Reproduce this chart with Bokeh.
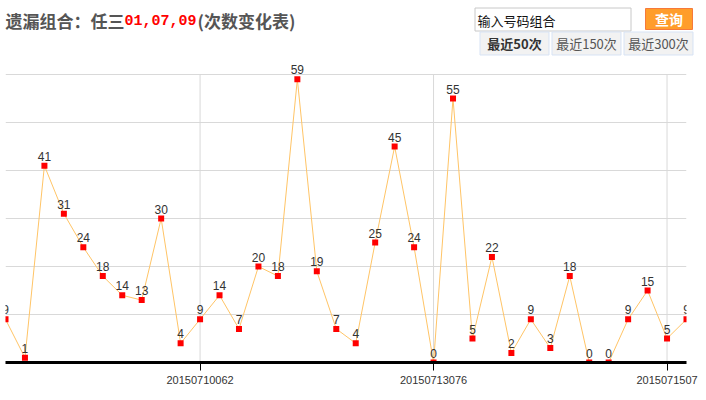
from bokeh.plotting import figure
from bokeh.layouts import column
from bokeh.models import Range1d, FixedTicker, ColumnDataSource
from bokeh.core.properties import value
from bokeh.embed import file_html
from bokeh.resources import INLINE

# ---- data ----
values = [9, 1, 41, 31, 24, 18, 14, 13, 30, 4, 9, 14, 7, 20, 18, 59, 19, 7, 4, 25,
          45, 24, 0, 55, 5, 22, 2, 9, 3, 18, 0, 0, 9, 15, 5, 9]
positions = list(range(len(values)))
tick_positions = [10, 22, 34]
tick_labels = ["20150710062", "20150713076", "2015071507"]
y_ticks = [0, 10, 20, 30, 40, 50, 60]
title_parts = ["遗漏组合：任三", "01,07,09", "(次数变化表)"]
button_labels = ["最近50次", "最近150次", "最近300次"]
input_placeholder = "输入号码组合"
query_label = "查询"

W = 698
HEAD_H = 58
CHART_H = 334
CJK = "Noto Sans CJK SC"

# ================= header (title + controls) =================
head = figure(width=W, height=HEAD_H, output_backend="svg", toolbar_location=None,
              title=None, x_axis_location=None, y_axis_location=None,
              x_range=Range1d(0, W), y_range=Range1d(HEAD_H, 0),
              min_border=0)
head.frame_align = False
head.outline_line_color = None
head.xgrid.visible = False
head.ygrid.visible = False

# title in three coloured parts
title_x = [5, 124, 197]
title_font = [CJK, "Liberation Mono", CJK]
title_size = ["17px", "15px", "17px"]
title_color = ["#555555", "#FF0000", "#555555"]
for i in range(3):
    head.text([title_x[i]], [19.5], text=[title_parts[i]], text_baseline="middle",
              text_align="left", text_font=value(title_font[i]),
              text_font_size=title_size[i], text_font_style="bold",
              text_color=title_color[i])

# input box
head.quad(left=[474.5], right=[630.5], top=[7.5], bottom=[30.5],
          fill_color="white", line_color="#c8c8c8", line_width=1)
head.text([477], [19.5], text=[input_placeholder], text_baseline="middle",
          text_font=value(CJK), text_font_size="13px", text_color="#111111")

# query button
head.quad(left=[645], right=[692], top=[8], bottom=[29],
          fill_color="#FF9D2B", line_color="#F6793A", line_width=1)
head.text([668.5], [18.5], text=[query_label], text_baseline="middle",
          text_align="center", text_font=value(CJK), text_font_size="14px",
          text_font_style="bold", text_color="white")

# range buttons
btn_left = [479.5, 551.5, 623.5]
btn_right = [548.5, 620.5, 692.5]
head.quad(left=btn_left, right=btn_right, top=[31.5] * 3, bottom=[54.5] * 3,
          fill_color="#F2F2F2", line_color="#D7E3F5", line_width=1)
for i in range(3):
    head.text([(btn_left[i] + btn_right[i]) / 2], [43], text=[button_labels[i]],
              text_baseline="middle", text_align="center", text_font=value(CJK),
              text_font_size="13px",
              text_font_style="bold" if i == 0 else "normal",
              text_color="#333333" if i == 0 else "#555555")

# ================= chart =================
p = figure(width=W, height=CHART_H, output_backend="svg", toolbar_location=None,
           title=None, y_axis_location=None,
           x_range=Range1d(0, 35), y_range=Range1d(0, 304 / 4.8),
           min_border_left=5, min_border_right=12, min_border_top=0,
           min_border_bottom=30)
p.frame_align = False
p.outline_line_color = None
p.background_fill_color = "white"
p.border_fill_color = "white"

# horizontal grid from the library, vertical grid stops at the top tick
p.ygrid.ticker = FixedTicker(ticks=y_ticks)
p.ygrid.grid_line_color = "#d9d9d9"
p.xgrid.visible = False
p.segment(x0=tick_positions, y0=[y_ticks[0]] * len(tick_positions),
          x1=tick_positions, y1=[y_ticks[-1]] * len(tick_positions),
          line_color="#d9d9d9", line_width=1)

# x axis
ax = p.xaxis[0]
ax.ticker = FixedTicker(ticks=tick_positions)
ax.major_label_overrides = {t: l for t, l in zip(tick_positions, tick_labels)}
ax.axis_line_width = 3
ax.axis_line_color = "black"
ax.major_tick_out = 8
ax.major_tick_in = 0
ax.minor_tick_out = 0
ax.minor_tick_in = 0
ax.major_tick_line_color = "black"
ax.major_label_text_font_size = "11px"
ax.major_label_text_color = "#333333"
ax.major_label_text_font = "Liberation Sans"
ax.major_label_standoff = 5

src = ColumnDataSource(dict(x=positions, y=values, label=[str(v) for v in values]))
p.line("x", "y", source=src, line_color="#FFC466", line_width=1)
p.scatter("x", "y", source=src, marker="square", size=6, fill_color="#FF0000",
          line_color=None)
p.text("x", "y", text="label", source=src, text_align="center",
       text_baseline="bottom", y_offset=-5, text_font_size="12px",
       text_color="#333333", text_font=value("Liberation Sans"))

layout = column(head, p, spacing=0)
open("out.html", "w").write(file_html(layout, INLINE))
